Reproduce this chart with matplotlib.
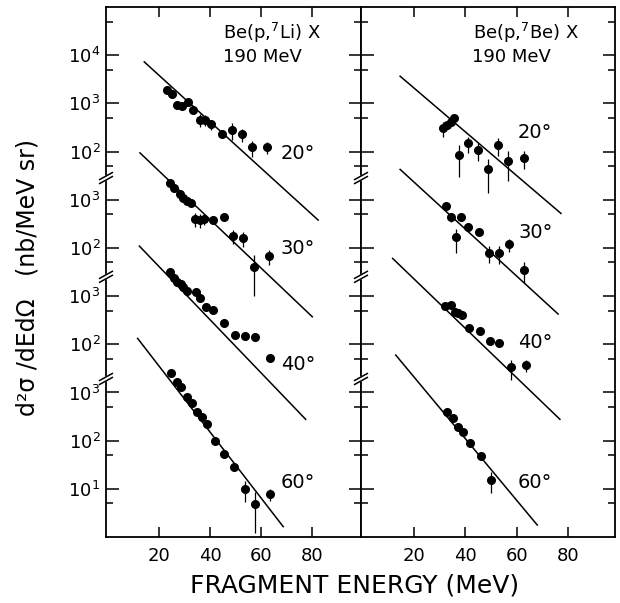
import numpy as np
import matplotlib
matplotlib.use('Agg')
import matplotlib.pyplot as plt
from matplotlib.ticker import FixedLocator, FixedFormatter, NullFormatter

# fragment energy (MeV), cross section (nb/MeV sr), error (nb/MeV sr)
# Be(p,7Li)X
li20_e = [23.1, 25.1, 27.1, 29.0, 31.4, 33.3, 36.1, 38.0, 40.4, 44.7, 48.6, 52.5, 56.5, 62.4]
li20_s = [1880, 1590, 920, 875, 1060, 720, 460, 460, 370, 230, 280, 230, 123, 123]
li20_d = [0, 0, 0, 0, 0, 0, 130, 120, 90, 40, 110, 70, 45, 35]

li30_e = [24.3, 26.0, 28.2, 29.4, 31.0, 32.4, 34.1, 35.9, 37.6, 41.3, 45.5, 49.1, 53.1, 57.4, 63.3]
li30_s = [2180, 1715, 1306, 1106, 957, 871, 396, 377, 396, 386, 430, 176, 157, 40, 68]
li30_d = [0, 0, 0, 0, 0, 0, 130, 120, 100, 0, 0, 55, 55, 30, 24]

li40_e = [24.3, 25.9, 27.2, 28.5, 29.5, 30.9, 34.5, 36.1, 38.4, 41.3, 45.5, 49.7, 53.6, 57.6, 63.5]
li40_s = [3190, 2330, 1980, 1775, 1515, 1288, 1194, 896, 583, 513, 271, 155, 150, 139, 52]
li40_d = [0, 0, 0, 0, 0, 0, 0, 0, 0, 0, 0, 20, 0, 20, 0]

li60_e = [24.5, 26.9, 28.7, 30.9, 32.8, 34.8, 36.7, 38.7, 42.0, 45.6, 49.5, 53.7, 57.6, 63.7]
li60_s = [2590, 1644, 1276, 803, 594, 398, 309, 224, 98, 53.5, 27.9, 9.9, 4.8, 7.8]
li60_d = [0, 0, 0, 0, 0, 0, 0, 0, 0, 0, 0, 4.5, 3.6, 2.3]

# Be(p,7Be)X
be20_e = [31.4, 33.0, 34.4, 35.7, 37.6, 40.9, 44.7, 48.9, 52.7, 56.6, 62.8]
be20_s = [301, 353, 413, 493, 84, 147, 107, 42.5, 136, 64, 74]
be20_d = [100, 60, 60, 60, 55, 55, 42, 29, 57, 40, 30]

be30_e = [32.3, 34.4, 36.2, 38.3, 41.1, 45.1, 49.1, 53.0, 56.9, 62.8]
be30_s = [736, 442, 165, 430, 266, 216, 79, 77, 120, 34.6]
be30_d = [0, 100, 85, 0, 0, 0, 30, 30, 36, 16]

be40_e = [32.0, 34.2, 35.9, 37.2, 38.5, 41.5, 45.5, 49.5, 53.1, 57.6, 63.5]
be40_s = [611, 666, 472, 438, 403, 222, 188, 118, 107, 33, 37]
be40_d = [0, 0, 0, 0, 0, 0, 0, 0, 20, 15, 11]

be60_e = [32.7, 35.0, 37.2, 38.9, 41.7, 46.0, 49.8]
be60_s = [398, 299, 194, 149, 90, 48.6, 15.2]
be60_d = [0, 0, 0, 0, 0, 8, 7]

# straight-line fits: end energies and end cross sections
li_fit_e = {20: [14.2, 82.4], 30: [12.5, 80.1], 40: [12.3, 77.5], 60: [11.6, 68.7]}
li_fit_s = {20: [7260, 3.78], 30: [9400, 3.72], 40: [10890, 2.77], 60: [13240, 1.64]}
be_fit_e = {20: [14.6, 77.1], 30: [14.6, 76.0], 40: [11.7, 76.7], 60: [12.9, 67.9]}
be_fit_s = {20: [3660, 5.2], 30: [4260, 4.24], 40: [6050, 2.77], 60: [5970, 1.77]}

angles = [20, 30, 40, 60]
# each angle block is shifted down by two decades
shift = {20: 1.0, 30: 1e-2, 40: 1e-4, 60: 1e-6}

# ticks per block in real units
major_real = {20: [1e4, 1e3, 1e2], 30: [1e3, 1e2], 40: [1e3, 1e2], 60: [1e3, 1e2, 1e1]}
minor_real = {20: [5e4, 5e3, 5e2, 5e1], 30: [5e2, 5e1], 40: [5e2, 5e1], 60: [5e2, 5e1, 5e0]}
breaks_log = [1.45, -0.6, -2.72]

li_data = {20: (li20_e, li20_s, li20_d), 30: (li30_e, li30_s, li30_d),
           40: (li40_e, li40_s, li40_d), 60: (li60_e, li60_s, li60_d)}
be_data = {20: (be20_e, be20_s, be20_d), 30: (be30_e, be30_s, be30_d),
           40: (be40_e, be40_s, be40_d), 60: (be60_e, be60_s, be60_d)}

YMIN, YMAX = 1e-6, 1e5


def break_mark(ax, logy, xf):
	yf = (logy - np.log10(YMIN)) / (np.log10(YMAX) - np.log10(YMIN))
	dx, dy, g = 0.025, 0.0066, 0.0075
	ax.fill([xf - dx, xf + dx, xf + dx, xf - dx],
			[yf - dy - g / 2, yf + dy - g / 2, yf + dy + g / 2, yf - dy + g / 2],
			color='white', transform=ax.transAxes, clip_on=False, zorder=5)
	for s in (-g / 2, g / 2):
		ax.plot([xf - dx, xf + dx], [yf - dy + s, yf + dy + s], color='black', lw=1.1,
				transform=ax.transAxes, clip_on=False, zorder=6)


def panel(ax, data, fit_e, fit_s, xlim):
	for a in angles:
		e, s, d = data[a]
		s = np.array(s, dtype=float)
		d = np.array(d, dtype=float)
		lo = np.minimum(d, s * 0.999)
		ax.errorbar(e, s * shift[a], yerr=[lo * shift[a], d * shift[a]], fmt='o', color='black',
					ms=5.5, elinewidth=0.9, capsize=0)
		ax.plot(fit_e[a], np.array(fit_s[a]) * shift[a], color='black', lw=1.1)
	ax.set_yscale('log')
	ax.set_ylim(YMIN, YMAX)
	ax.set_xlim(*xlim)
	maj = [v * shift[a] for a in angles for v in major_real[a]]
	mnr = [v * shift[a] for a in angles for v in minor_real[a]]
	ax.yaxis.set_major_locator(FixedLocator(maj))
	ax.yaxis.set_minor_locator(FixedLocator(mnr))
	ax.yaxis.set_minor_formatter(NullFormatter())
	ax.set_xticks([20, 40, 60, 80])
	ax.set_xticklabels(['20', '40', '60', '80'], fontsize=13)
	ax.tick_params(axis='x', direction='in', top=True, length=7, width=1.1, pad=7)
	ax.tick_params(axis='y', which='major', direction='in', left=True, right=True, length=9, width=1.1)
	ax.tick_params(axis='y', which='minor', direction='in', left=True, right=True, length=5, width=1.1)
	for sp in ax.spines.values():
		sp.set_linewidth(1.3)
	return maj


fig = plt.figure(figsize=(6.2, 6.03), dpi=100)
ax1 = fig.add_axes([106 / 620, 1 - 537 / 603, 255 / 620, 530 / 603])
ax2 = fig.add_axes([361 / 620, 1 - 537 / 603, 254 / 620, 530 / 603])

maj = panel(ax1, li_data, li_fit_e, li_fit_s, (-0.8, 99.2))
labels = [r'$\mathregular{10^{%d}}$' % int(round(np.log10(v))) for a in angles for v in major_real[a]]
ax1.yaxis.set_major_formatter(FixedFormatter(labels))
ax1.tick_params(axis='y', labelsize=13, pad=4)

panel(ax2, be_data, be_fit_e, be_fit_s, (-0.6, 98.1))
ax2.tick_params(axis='y', which='both', labelleft=False)

for b in breaks_log:
	break_mark(ax1, b, 0.0)
	break_mark(ax2, b, 0.0)

# reaction labels
fig.text(223 / 620, 1 - 33 / 603, r'Be(p,$\mathregular{^7}$Li) X', fontsize=13, va='center')
fig.text(223 / 620, 1 - 57 / 603, '190 MeV', fontsize=13, va='center')
fig.text(473 / 620, 1 - 33 / 603, r'Be(p,$\mathregular{^7}$Be) X', fontsize=13, va='center')
fig.text(472 / 620, 1 - 57 / 603, '190 MeV', fontsize=13, va='center')

# angle labels
li_lab_y = {20: 153, 30: 248, 40: 365, 60: 483}
be_lab_y = {20: 133, 30: 233, 40: 343, 60: 482}
for a in angles:
	fig.text(281 / 620, 1 - li_lab_y[a] / 603, '%d°' % a, fontsize=14, va='center')
	fig.text(518 / 620, 1 - be_lab_y[a] / 603, '%d°' % a, fontsize=14, va='center')

fig.text(355 / 620, 1 - 586 / 603, 'FRAGMENT ENERGY (MeV)', fontsize=18, ha='center', va='center')
fig.text(28 / 620, 1 - 277 / 603, 'd²σ /dEdΩ   (nb/MeV sr)', fontsize=17, rotation=90,
		 ha='center', va='center')

plt.savefig('out.png', dpi=100)
plt.close()
